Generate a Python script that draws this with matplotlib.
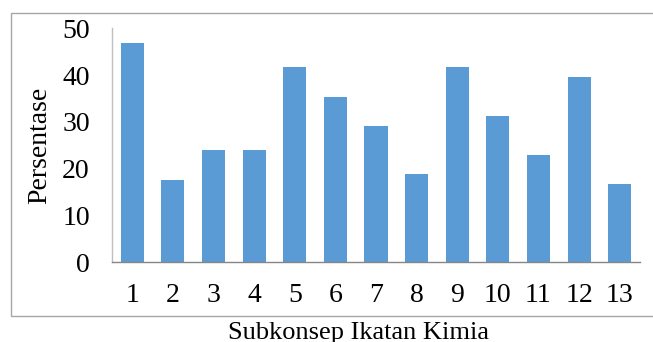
import matplotlib.pyplot as plt
from matplotlib.patches import Rectangle

# data
subkonsep = [str(i) for i in range(1, 14)]
persentase = [46.9, 17.6, 23.9, 23.9, 41.7, 35.4, 29.1, 18.8, 41.7, 31.3, 22.9, 39.5, 16.7]
yticks = [0, 10, 20, 30, 40, 50]

plt.rcParams['font.family'] = ['Liberation Serif', 'DejaVu Serif']

W, H = 653, 342
fig = plt.figure(figsize=(W / 100, H / 100), dpi=100)
ax = fig.add_axes([112 / W, 1 - 262.3 / H, (640 - 112) / W, (262.3 - 28.3) / H])

x = list(range(1, 14))
ax.bar(x, persentase, width=0.57, color='#5B9BD5', edgecolor='none')

ax.set_xlim(0.5, 13.5)
ax.set_ylim(0, 50)
ax.set_yticks(yticks)
ax.set_xticks(x)
ax.set_xticklabels(subkonsep)
ax.tick_params(axis='both', length=0, labelsize=20)
ax.tick_params(axis='y', pad=16)
ax.tick_params(axis='x', pad=15)

for s in ['top', 'right']:
    ax.spines[s].set_visible(False)
ax.spines['left'].set_color('#BFBFBF')
ax.spines['bottom'].set_color('#868686')
ax.spines['left'].set_linewidth(1.0)
ax.spines['bottom'].set_linewidth(1.0)

ax.set_ylabel('Persentase', fontsize=20)
ax.yaxis.set_label_coords(-(112 - 52) / (640 - 112), 0.5)

fig.text(359 / W, 1 - 333 / H, 'Subkonsep Ikatan Kimia', fontsize=19,
         ha='center', va='center')

# outer chart frame
frame = Rectangle((11 / W, 1 - 316 / H), 1.2, (316 - 12.7) / H,
                  transform=fig.transFigure, fill=False,
                  edgecolor='#A6A6A6', linewidth=1.0, clip_on=False)
fig.patches.append(frame)

fig.savefig('out.png', dpi=100)
